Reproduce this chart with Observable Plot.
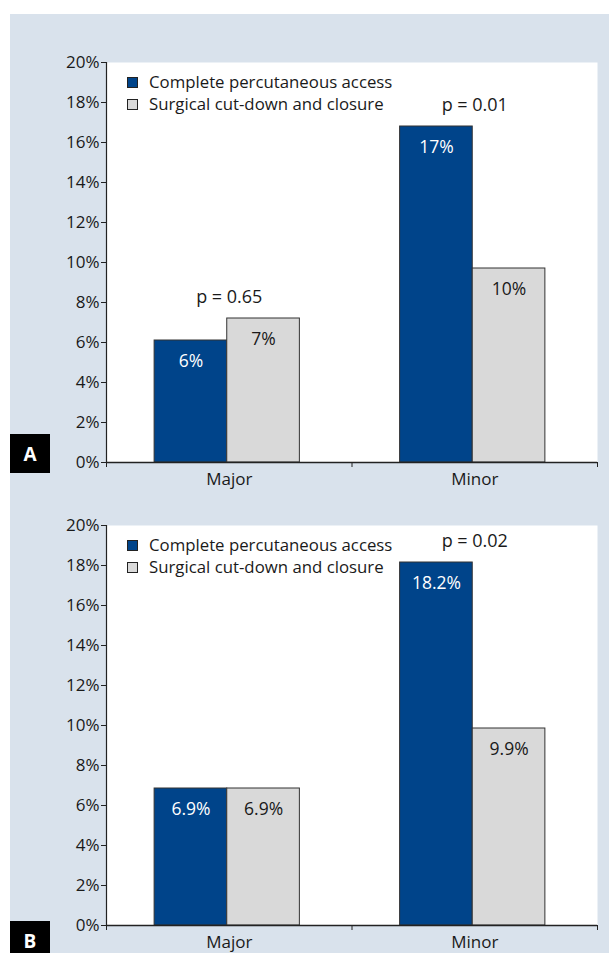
<!DOCTYPE html>
<html>
<head>
<meta charset="utf-8">
<script src="https://cdn.jsdelivr.net/npm/d3@7"></script>
<script src="https://cdn.jsdelivr.net/npm/@observablehq/plot@0.6"></script>
<style>
  html, body { margin: 0; padding: 0; background: #ffffff; }
  body { width: 609px; height: 953px; position: relative; overflow: hidden; font-family: "Open Sans", sans-serif; }
  #bg { position: absolute; left: 10px; top: 14px; width: 599px; height: 939px; background: #d9e2ec; }
  .panel { position: absolute; left: 0; }
  .tag { position: absolute; left: 0; width: 40px; height: 39px; background: #000; color: #fff; font: bold 19px "Open Sans", sans-serif; display: flex; align-items: center; justify-content: center; }
  .legend { position: absolute; left: 117px; font-size: 16.8px; color: #1a1a1a; line-height: 22px; }
  .legend div { display: flex; align-items: center; white-space: nowrap; }
  .legend span.sw { display: inline-block; width: 9px; height: 9px; border: 1px solid #222; margin-right: 11px; }
</style>
</head>
<body>
<div id="bg"></div>
<script>
const categories = ["Major", "Minor"];
const seriesNames = ["Complete percutaneous access", "Surgical cut-down and closure"];
const seriesColors = ["#00448a", "#d9d9d9"];
const yTicks = [0, 2, 4, 6, 8, 10, 12, 14, 16, 18, 20];

// Panel A
const aComplete = [6.1, 16.8];
const aSurgical = [7.2, 9.7];
const aCompleteLabels = ["6%", "17%"];
const aSurgicalLabels = ["7%", "10%"];
const aPValues = ["p = 0.65", "p = 0.01"];

// Panel B
const bComplete = [6.85, 18.15];
const bSurgical = [6.85, 9.85];
const bCompleteLabels = ["6.9%", "18.2%"];
const bSurgicalLabels = ["6.9%", "9.9%"];
const bPValues = [null, "p = 0.02"];

const bg = document.getElementById("bg");

// inner band layout of the two bars within each category span [i, i+1]
const inner = d3.scaleBand().domain(seriesNames).range([0, 1]).paddingInner(0).paddingOuter(0.69).align(0.48);

function makePanel({complete, surgical, completeLabels, surgicalLabels, pValues, top, marginTop, marginBottom, tag, tagTop}) {
  const rows = [];
  categories.forEach((c, i) => {
    [[complete, completeLabels], [surgical, surgicalLabels]].forEach(([vals, labs], s) => {
      const x1 = i + inner(seriesNames[s]);
      rows.push({cat: c, series: seriesNames[s], value: vals[i], label: labs[i],
                 x1, x2: x1 + inner.bandwidth(), xc: x1 + inner.bandwidth() / 2});
    });
  });
  const pRows = categories.map((c, i) => ({x: i + 0.5, y: Math.max(complete[i], surgical[i]), text: pValues[i]}))
                          .filter(d => d.text);
  const xBounds = d3.range(categories.length + 1);
  const xCenters = categories.map((c, i) => i + 0.5);

  const chart = Plot.plot({
    width: 599,
    height: marginTop + 400 + marginBottom,
    marginLeft: 96,
    marginRight: 12,
    marginTop,
    marginBottom,
    style: {background: "transparent", fontFamily: "'Open Sans', sans-serif", fontSize: "16px", color: "#1a1a1a"},
    x: {domain: [0, categories.length]},
    y: {domain: [0, 20]},
    color: {domain: seriesNames, range: seriesColors},
    marks: [
      Plot.frame({fill: "white", stroke: "none"}),
      Plot.rectY(rows, {x1: "x1", x2: "x2", y1: 0, y2: "value", fill: "series", stroke: "#333", strokeWidth: 1}),
      Plot.text(rows.filter(d => d.series === seriesNames[0]), {x: "xc", y: "value", text: "label", dy: 21, fill: "white", fontSize: 17.5}),
      Plot.text(rows.filter(d => d.series === seriesNames[1]), {x: "xc", y: "value", text: "label", dy: 21, fill: "#1a1a1a", fontSize: 17.5}),
      Plot.text(pRows, {x: "x", y: "y", text: "text", dy: -21, fill: "#1a1a1a", fontSize: 18}),
      Plot.ruleX([0], {stroke: "#222", strokeWidth: 1.2}),
      Plot.ruleY([0], {stroke: "#222", strokeWidth: 1.5}),
      Plot.axisY({ticks: yTicks, tickFormat: d => d + "%", tickSize: 5, tickPadding: 2, fontSize: 17, stroke: "#222"}),
      Plot.axisX({ticks: xBounds, tickFormat: () => "", tickSize: 5, stroke: "#222"}),
      Plot.axisX({ticks: xCenters, tickFormat: d => categories[Math.floor(d)], tickSize: 0, tickPadding: 10, fontSize: 17})
    ]
  });
  const wrap = document.createElement("div");
  wrap.className = "panel";
  wrap.style.top = top + "px";
  wrap.appendChild(chart);
  const leg = document.createElement("div");
  leg.className = "legend";
  leg.style.top = (marginTop + 9) + "px";
  seriesNames.forEach((n, i) => {
    const row = document.createElement("div");
    const sw = document.createElement("span");
    sw.className = "sw";
    sw.style.background = seriesColors[i];
    row.appendChild(sw);
    row.appendChild(document.createTextNode(n));
    leg.appendChild(row);
  });
  wrap.appendChild(leg);
  const t = document.createElement("div");
  t.className = "tag";
  t.style.top = tagTop + "px";
  t.textContent = tag;
  wrap.appendChild(t);
  bg.appendChild(wrap);
}

makePanel({complete: aComplete, surgical: aSurgical, completeLabels: aCompleteLabels, surgicalLabels: aSurgicalLabels,
           pValues: aPValues, top: 0, marginTop: 48, marginBottom: 30, tag: "A", tagTop: 420});
makePanel({complete: bComplete, surgical: bSurgical, completeLabels: bCompleteLabels, surgicalLabels: bSurgicalLabels,
           pValues: bPValues, top: 478, marginTop: 33, marginBottom: 28, tag: "B", tagTop: 429});
</script>
</body>
</html>
